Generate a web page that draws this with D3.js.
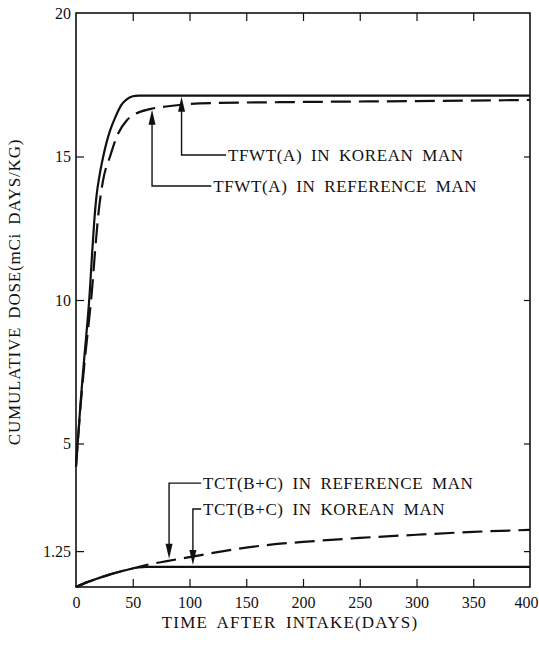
<!DOCTYPE html>
<html>
<head>
<meta charset="utf-8">
<script src="https://cdn.jsdelivr.net/npm/d3@7"></script>
<style>
  body { margin: 0; background: #fff; }
  svg text { font-family: "Liberation Serif", "DejaVu Serif", serif; fill: #111; }
  .frame { fill: none; stroke: #111; stroke-width: 1.6; }
  .tick line { stroke: #111; stroke-width: 1.2; }
  .curve { fill: none; stroke: #111; stroke-width: 2.2; }
  .dashed { stroke-dasharray: 20, 8; }
  .lead { fill: none; stroke: #111; stroke-width: 1.4; }
</style>
</head>
<body>
<script>
//tick values
var xTicks = [0, 50, 100, 150, 200, 250, 300, 350, 400];
var yTicks = [1.25, 5, 10, 15, 20];

//TFWT(A), Korean man (solid) - [day, dose]
var tfwtKorean = [[0, 4.2], [2, 5.3], [4, 6.4], [6, 7.4], [8, 8.3], [10, 9.2], [12, 10.2],
    [14, 11.5], [16, 12.7], [18, 13.6], [21, 14.4], [24, 15.0], [27, 15.5], [30, 15.9],
    [35, 16.4], [40, 16.8], [45, 17.0], [50, 17.1], [55, 17.12], [100, 17.12], [400, 17.12]];

//TFWT(A), reference man (dashed)
var tfwtReference = [[0, 4.2], [4, 6.3], [8, 8.0], [12, 9.5], [14, 10.3], [17, 11.8],
    [20, 13.1], [24, 14.2], [30, 15.0], [36, 15.7], [45, 16.27], [53, 16.5], [65, 16.65],
    [83, 16.76], [109, 16.85], [200, 16.9], [300, 16.93], [400, 16.97]];

//TCT(B+C), Korean man (solid)
var tctKorean = [[0, 0], [10, 0.17], [20, 0.31], [30, 0.44], [40, 0.55], [47, 0.62],
    [55, 0.68], [62, 0.7], [100, 0.7], [400, 0.7]];

//TCT(B+C), reference man (dashed)
var tctReference = [[0, 0], [10, 0.17], [20, 0.31], [30, 0.44], [40, 0.55], [47, 0.62],
    [60, 0.75], [80, 0.9], [100, 1.04], [130, 1.25], [170, 1.47], [200, 1.57],
    [250, 1.71], [300, 1.82], [350, 1.92], [400, 1.99]];

//label texts
var labels = ["TFWT(A) IN KOREAN MAN", "TFWT(A) IN REFERENCE MAN",
    "TCT(B+C) IN REFERENCE MAN", "TCT(B+C) IN KOREAN MAN"];

window.onload = drawChart();

function drawChart(){

    var width = 539,
        height = 647;

    var svg = d3.select("body")
        .append("svg")
        .attr("width", width)
        .attr("height", height);

    var x = d3.scaleLinear().domain([0, 400]).range([76, 530]);
    var y = d3.scaleLinear().domain([0, 20]).range([587, 13]);

    //frame
    svg.append("rect")
        .attr("class", "frame")
        .attr("x", x(0))
        .attr("y", y(20))
        .attr("width", x(400) - x(0))
        .attr("height", y(0) - y(20));

    //bottom axis, ticks pointing inward
    var bottom = svg.append("g")
        .attr("transform", "translate(0," + y(0) + ")")
        .call(d3.axisBottom(x).tickValues(xTicks).tickSizeInner(-8).tickSizeOuter(0));
    bottom.select(".domain").remove();
    bottom.selectAll(".tick line").filter(function(d){ return d == 0 || d == 400; }).remove();
    bottom.selectAll("text").attr("font-size", 16).attr("dy", "0.35em").attr("y", 15);
    //last label would run off the page, so it ends at the edge
    bottom.selectAll("text").filter(function(d){ return d == 400; })
        .attr("text-anchor", "end").attr("x", width - 1 - x(400));

    //top ticks
    var top = svg.append("g")
        .attr("transform", "translate(0," + y(20) + ")")
        .call(d3.axisTop(x).tickValues(xTicks.slice(1, -1)).tickSizeInner(-8).tickSizeOuter(0).tickFormat(""));
    top.select(".domain").remove();

    //left axis
    var left = svg.append("g")
        .attr("transform", "translate(" + x(0) + ",0)")
        .call(d3.axisLeft(y).tickValues(yTicks).tickSizeInner(-8).tickSizeOuter(0)
            .tickFormat(function(d){ return d == 1.25 ? "1.25" : d; }));
    left.select(".domain").remove();
    left.selectAll(".tick line").filter(function(d){ return d == 20; }).remove();
    left.selectAll("text").attr("font-size", 16).attr("x", -5);

    //right ticks
    var right = svg.append("g")
        .attr("transform", "translate(" + x(400) + ",0)")
        .call(d3.axisRight(y).tickValues(yTicks.slice(0, -1)).tickSizeInner(-6).tickSizeOuter(0).tickFormat(""));
    right.select(".domain").remove();

    //curves
    var line = d3.line()
        .x(function(d){ return x(d[0]); })
        .y(function(d){ return y(d[1]); })
        .curve(d3.curveMonotoneX);

    svg.append("path").datum(tfwtKorean).attr("class", "curve").attr("d", line);
    svg.append("path").datum(tfwtReference).attr("class", "curve dashed").attr("d", line);
    svg.append("path").datum(tctKorean).attr("class", "curve").attr("d", line);
    svg.append("path").datum(tctReference).attr("class", "curve dashed").attr("d", line);

    //value on a curve at a given day
    function valueAt(series, day){
        var i = d3.bisector(function(d){ return d[0]; }).left(series, day);
        if (i <= 0) return series[0][1];
        var a = series[i - 1], b = series[i];
        return a[1] + (b[1] - a[1]) * (day - a[0]) / (b[0] - a[0]);
    }

    //callouts: arrow day, label day, label level, curve pointed at
    var callouts = [
        {text: labels[0], day: 93, labelDay: 134, level: 15.05, series: tfwtKorean, dir: -1},
        {text: labels[1], day: 67, labelDay: 121, level: 13.97, series: tfwtReference, dir: -1},
        {text: labels[2], day: 82, labelDay: 112, level: 3.62, series: tctReference, dir: 1},
        {text: labels[3], day: 103, labelDay: 112, level: 2.72, series: tctKorean, dir: 1}
    ];

    callouts.forEach(function(c){
        var ax = x(c.day),
            tipY = y(valueAt(c.series, c.day)) - (c.dir > 0 ? 2 : -1),
            ly = y(c.level),
            lx = x(c.labelDay);

        svg.append("path")
            .attr("class", "lead")
            .attr("d", "M" + (lx - 2) + "," + ly + "H" + ax + "V" + (tipY - c.dir * 12));

        //arrow head
        svg.append("path")
            .attr("fill", "#111")
            .attr("d", "M" + ax + "," + tipY +
                "L" + (ax - 3.5) + "," + (tipY - c.dir * 15) +
                "L" + (ax + 3.5) + "," + (tipY - c.dir * 15) + "Z");

        svg.append("text")
            .attr("x", lx)
            .attr("y", ly)
            .attr("dy", "0.35em")
            .attr("font-size", 17)
            .attr("letter-spacing", 0.6)
            .attr("word-spacing", 4)
            .text(c.text);
    });

    //axis titles
    svg.append("text")
        .attr("x", 290)
        .attr("y", 622)
        .attr("dy", "0.35em")
        .attr("text-anchor", "middle")
        .attr("font-size", 17)
        .attr("letter-spacing", 1.2)
        .attr("word-spacing", 4)
        .text("TIME AFTER INTAKE(DAYS)");

    svg.append("text")
        .attr("transform", "translate(14,292) rotate(-90)")
        .attr("text-anchor", "middle")
        .attr("dy", "0.35em")
        .attr("font-size", 17)
        .attr("letter-spacing", 0.8)
        .attr("word-spacing", 3)
        .text("CUMULATIVE DOSE(mCi DAYS/KG)");
};
</script>
</body>
</html>
